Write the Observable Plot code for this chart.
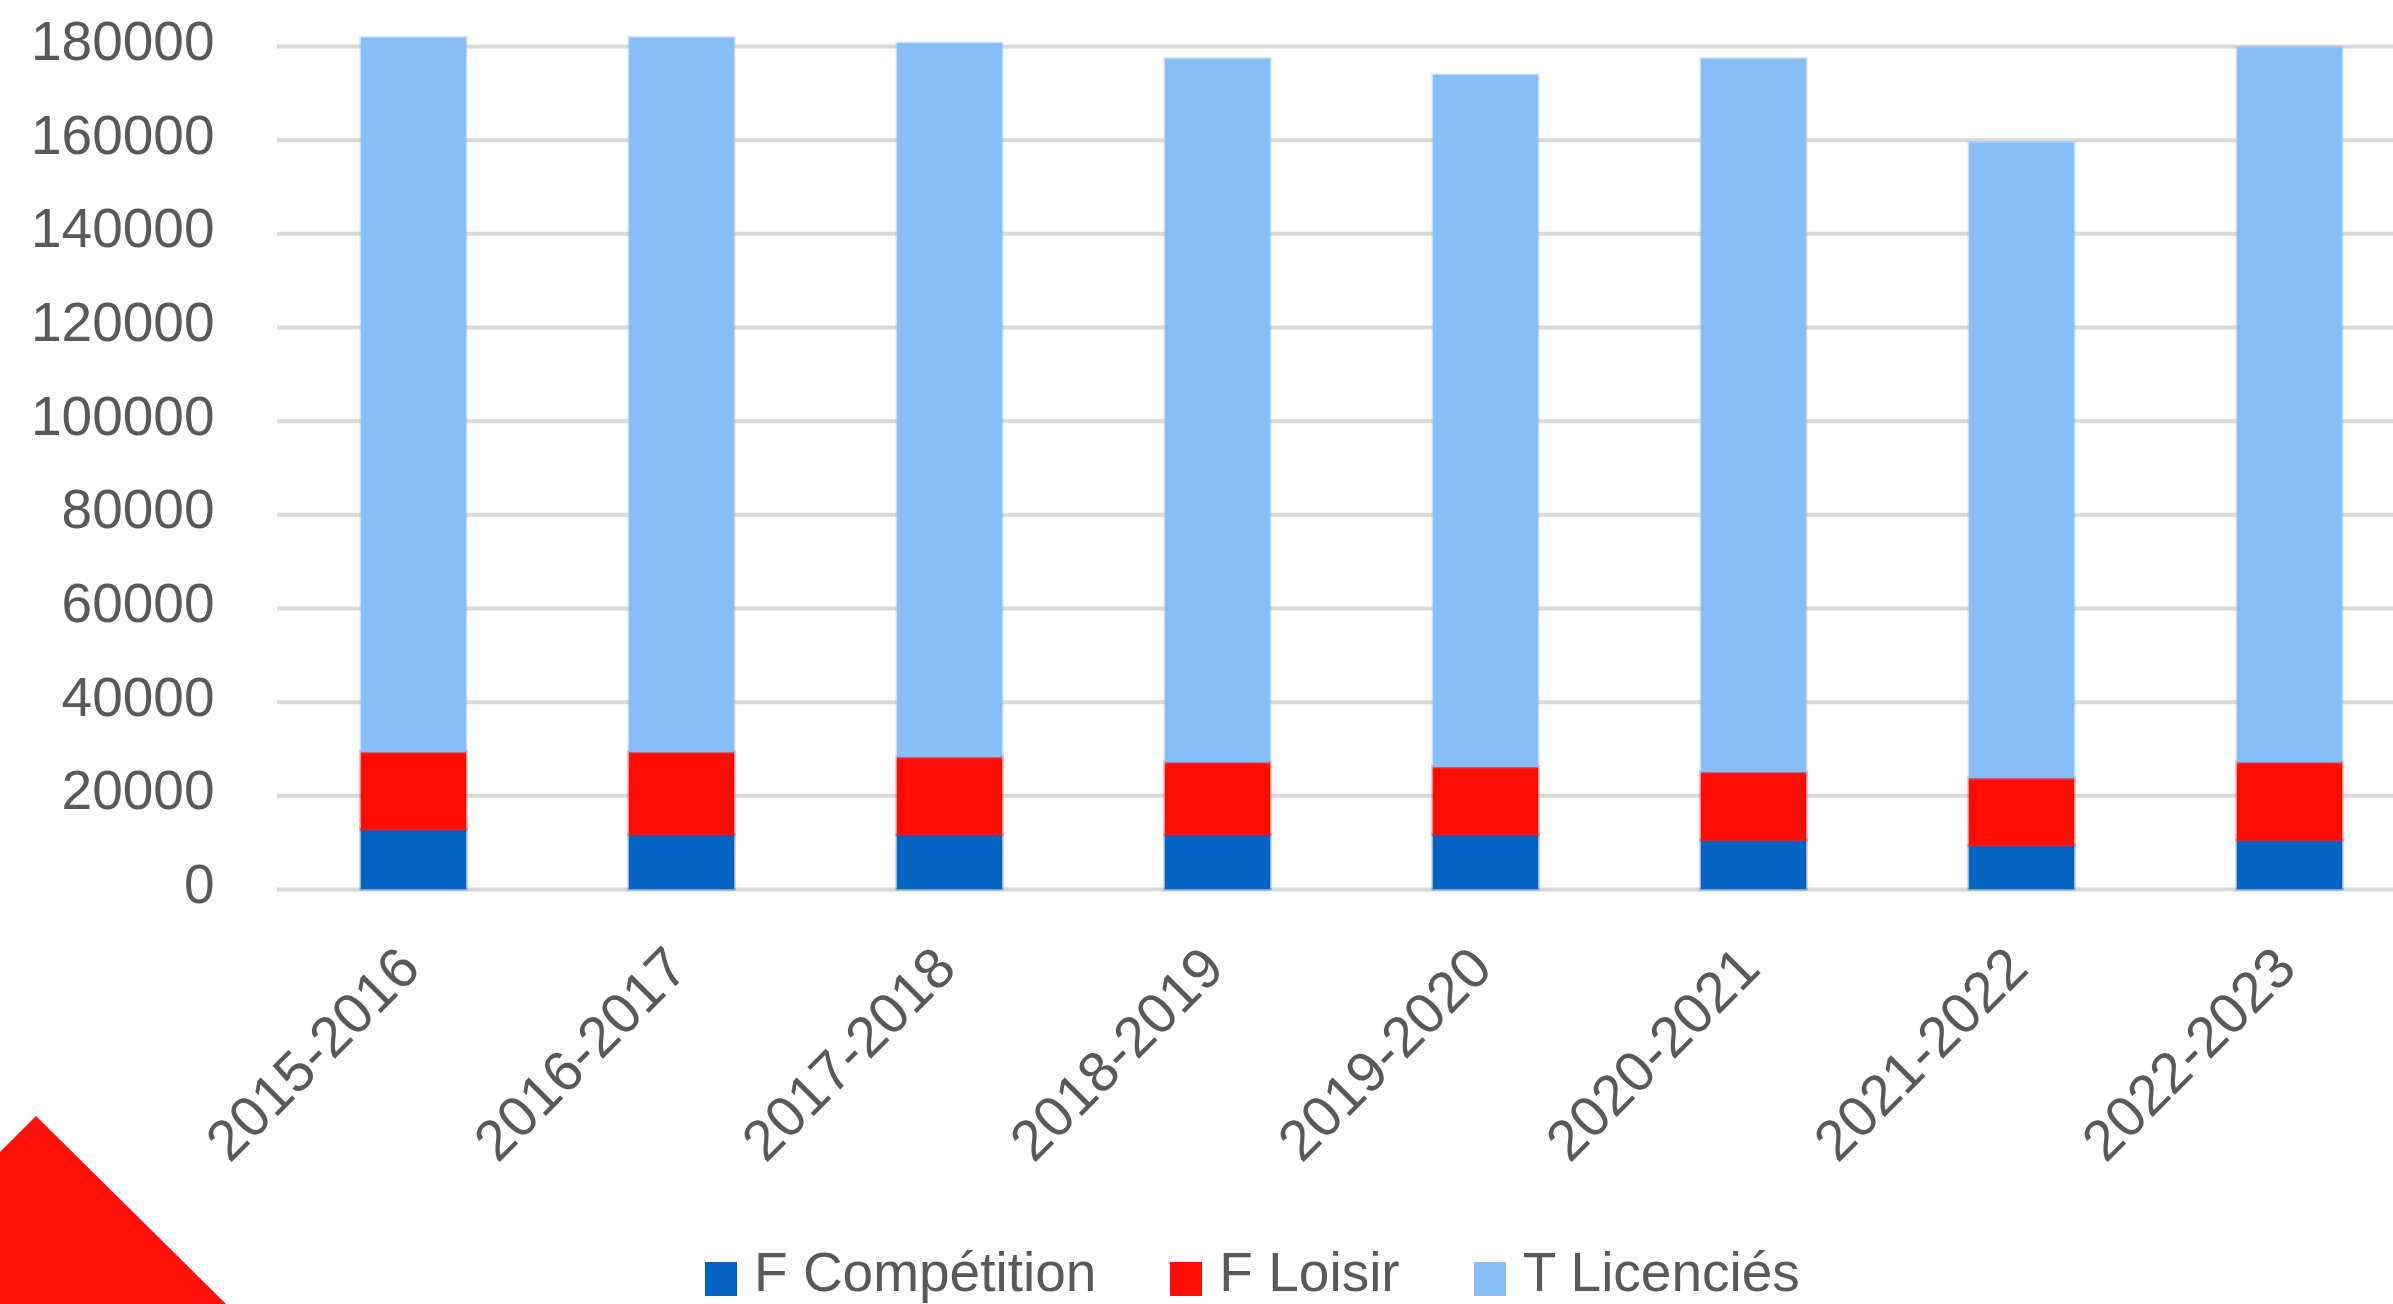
<!DOCTYPE html>
<html>
<head>
<meta charset="utf-8">
<script src="https://cdn.jsdelivr.net/npm/d3@7"></script>
<script src="https://cdn.jsdelivr.net/npm/@observablehq/plot@0.6"></script>
<style>
  html, body { margin: 0; padding: 0; background: #ffffff; overflow: hidden; }
  #page { position: relative; width: 2393px; height: 1304px; font-family: "Liberation Sans", Arial, sans-serif; }
  #chart { position: absolute; left: 0; top: 0; }
  #legend { position: absolute; left: 705px; top: 1240px; display: flex; align-items: center; font-size: 55px; color: #595959; white-space: nowrap; }
  .item { display: flex; align-items: center; margin-right: 74px; }
  .sw { width: 32px; height: 34px; margin-right: 17px; box-sizing: border-box; margin-top: 14px; }
  #tri { position: absolute; left: 0; top: 1116px; width: 226px; height: 188px; background: #ff0f0a;
         clip-path: polygon(0px 36px, 36px 0px, 226px 188px, 0px 188px); }
</style>
</head>
<body>
<div id="page">
  <div id="chart"></div>
  <div id="legend"></div>
  <div id="tri"></div>
</div>
<script>
// ---- data ----
const categories = ["2015-2016", "2016-2017", "2017-2018", "2018-2019", "2019-2020", "2020-2021", "2021-2022", "2022-2023"];
const seriesNames = ["F Compétition", "F Loisir", "T Licenciés"];
const seriesColors = ["#0563c1", "#ff0c06", "#87bef8"];
const fCompetition = [12700, 11600, 11600, 11600, 11600, 10400, 9300, 10400];
const fLoisir = [16600, 17700, 16600, 15500, 14500, 14600, 14400, 16700];
const tLicencies = [152500, 152500, 152400, 150200, 147700, 152300, 135700, 152600];
const yTicks = [0, 20000, 40000, 60000, 80000, 100000, 120000, 140000, 160000, 180000];

// long table built from the arrays
const seriesValues = [fCompetition, fLoisir, tLicencies];
const table = [];
seriesNames.forEach((s, si) => {
  categories.forEach((c, ci) => table.push({saison: c, serie: s, valeur: seriesValues[si][ci]}));
});

const W = 2393, H = 1215;
const chart = Plot.plot({
  width: W,
  height: H,
  marginLeft: 277,
  marginRight: 0,
  marginTop: 46,
  marginBottom: H - 889,
  style: {fontFamily: "'Liberation Sans', Arial, sans-serif", fontSize: "55px", color: "#595959", background: "transparent", overflow: "visible"},
  x: {domain: categories, range: [277, 2425], paddingInner: 0.609, paddingOuter: 0.3045, label: null},
  y: {domain: [0, 180000], label: null},
  color: {domain: seriesNames, range: seriesColors},
  marks: [
    Plot.gridY(yTicks, {stroke: "#d9d9d9", strokeOpacity: 1, strokeWidth: 4}),
    Plot.barY(table, Plot.stackY({
      x: "saison", y: "valeur", z: "serie", fill: "serie", stroke: "serie",
      strokeOpacity: 0.45, strokeWidth: 3, order: seriesNames
    })),
    Plot.axisY({ticks: yTicks, tickSize: 0, tickPadding: 63, tickFormat: d => String(d), fontSize: 55, dy: -4, label: null}),
    Plot.axisX({tickRotate: -45, tickSize: 0, tickPadding: 53, dx: -20, fontSize: 57,
                textAnchor: "end", lineAnchor: "top", label: null})
  ]
});
document.getElementById("chart").appendChild(chart);

// legend
const legend = document.getElementById("legend");
seriesNames.forEach((s, i) => {
  const item = document.createElement("div");
  item.className = "item";
  const sw = document.createElement("div");
  sw.className = "sw";
  sw.style.background = seriesColors[i];
  sw.style.border = "2px solid " + d3.color(seriesColors[i]).copy({opacity: 0.55}).formatRgb();
  const t = document.createElement("span");
  t.textContent = s;
  item.appendChild(sw);
  item.appendChild(t);
  legend.appendChild(item);
});
</script>
</body>
</html>
